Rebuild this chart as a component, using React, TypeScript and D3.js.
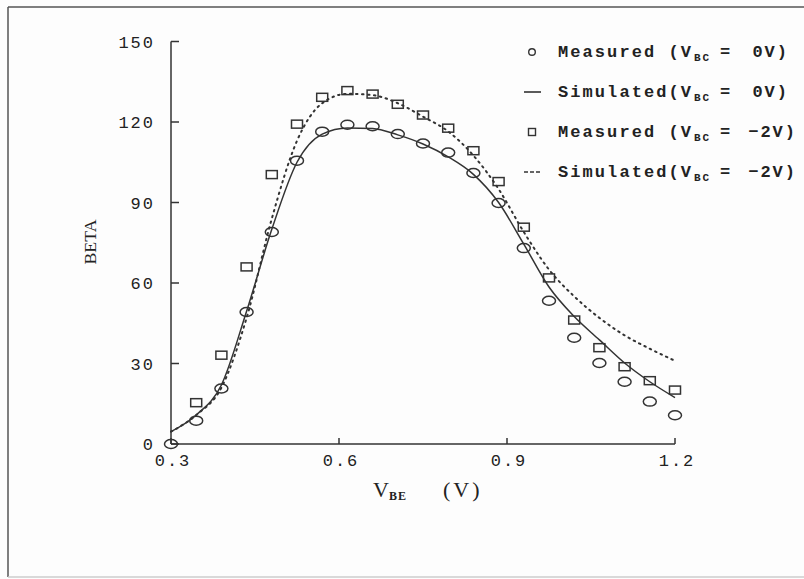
import * as d3 from "d3";

const vbe = [0.3, 0.345, 0.39, 0.435, 0.48, 0.525, 0.57, 0.615, 0.66, 0.705, 0.75,
  0.795, 0.84, 0.885, 0.93, 0.975, 1.02, 1.065, 1.11, 1.155, 1.2];
const vbeSq = [0.345, 0.39, 0.435, 0.48, 0.525, 0.57, 0.615, 0.66, 0.705, 0.75,
  0.795, 0.84, 0.885, 0.93, 0.975, 1.02, 1.065, 1.11, 1.155, 1.2];

const measured0 = [0, 8.7, 20.7, 49.2, 79, 105.6, 116.4, 119, 118.4, 115.5, 112,
  108.6, 101, 89.8, 73, 53.4, 39.6, 30.2, 23.2, 15.8, 10.7];
const simulated0 = [4.6, 10.8, 22, 49.5, 80, 105, 115.5, 117.8, 117.6, 115.2, 111.8,
  107, 100.5, 90, 74.5, 58.5, 47.5, 38.8, 30.2, 23.2, 17.3];
const measured2 = [15.4, 33.1, 66, 100.4, 119.2, 129.2, 131.7, 130.4, 126.6, 122.6,
  117.7, 109.3, 97.8, 80.8, 61.9, 46.2, 35.9, 28.8, 23.6, 20.1];
const simulated2 = [4.6, 10.8, 21, 47, 84, 113, 127, 130.5, 130, 127, 122,
  116.5, 107.5, 95, 79, 65, 55, 47, 40.5, 35.5, 31];

const xTicks = [0.3, 0.6, 0.9, 1.2];
const yTicks = [0, 30, 60, 90, 120, 150];

const legendLabels = ["Measured (V", "Simulated(V", "Measured (V", "Simulated(V"];
const legendValues = ["0V)", "0V)", "\u22122V)", "\u22122V)"];
const legendMarks = ["circle", "solid", "square", "dots"];

const ink = "#333";
const mono = "'Liberation Mono', monospace";
const serif = "'Liberation Serif', serif";

export default function App() {
  const width = 804, height = 579;
  const x = d3.scaleLinear().domain([0.3, 1.2]).range([171, 675]);
  const y = d3.scaleLinear().domain([0, 150]).range([444, 41.5]);

  const line = d3.line<number>()
    .x((d, i) => x(vbe[i]))
    .y(d => y(d))
    .curve(d3.curveMonotoneX);

  return (
    <svg width={width} height={height} style={{ position: "absolute", left: 0, top: 0, background: "#fdfdfd" }}>
      {/* scan frame */}
      <line x1={8} y1={7} x2={804} y2={7} stroke="#555" strokeWidth={1.5} />
      <line x1={8} y1={7} x2={8} y2={577} stroke="#555" strokeWidth={1.5} />
      <line x1={8} y1={577} x2={804} y2={577} stroke="#ccc" strokeWidth={1.5} />

      {/* axes */}
      <line x1={x(0.3)} y1={y(0)} x2={x(0.3)} y2={y(150)} stroke={ink} strokeWidth={1.5} />
      <line x1={x(0.3)} y1={y(0)} x2={x(1.2)} y2={y(0)} stroke={ink} strokeWidth={1.5} />
      {yTicks.map(t => (
        <g key={"y" + t}>
          <line x1={x(0.3)} x2={x(0.3) + 8} y1={y(t)} y2={y(t)} stroke={ink} strokeWidth={1.5} />
          <text x={155} y={y(t) + 6} textAnchor="end" fontFamily={mono} fontSize={17}
            letterSpacing={2} fill="#222">{t}</text>
        </g>
      ))}
      {xTicks.map(t => (
        <g key={"x" + t}>
          <line x1={x(t)} x2={x(t)} y1={y(0)} y2={y(0) - 6} stroke={ink} strokeWidth={1.5} />
          <text x={x(t) + 2} y={466} textAnchor="middle" fontFamily={mono} fontSize={17}
            letterSpacing={2} fill="#222">{t.toFixed(1)}</text>
        </g>
      ))}

      <text transform="translate(96,242) rotate(-90)" textAnchor="middle" fontFamily={serif}
        fontSize={16} fill="#222" textLength={45} lengthAdjust="spacingAndGlyphs">BETA</text>
      <text x={373} y={497} fontFamily={serif} fontSize={22} fill="#222">
        V<tspan fontSize={12} fontWeight="bold" dy={3} letterSpacing={1}>BE</tspan>
      </text>
      <text x={443} y={497} fontFamily={serif} fontSize={22} fill="#222" letterSpacing={3}>(V)</text>

      {/* simulated curves */}
      <path d={line(simulated2) || ""} fill="none" stroke={ink} strokeWidth={2}
        strokeDasharray="1.5,4.5" strokeLinecap="round" />
      <path d={line(simulated0) || ""} fill="none" stroke={ink} strokeWidth={1.5} />

      {/* measured points */}
      {measured0.map((v, i) => (
        <ellipse key={"c" + i} cx={x(vbe[i])} cy={y(v)} rx={6.5} ry={4.5}
          fill="none" stroke={ink} strokeWidth={1.5} />
      ))}
      {measured2.map((v, i) => (
        <rect key={"s" + i} x={x(vbeSq[i]) - 5.5} y={y(v) - 4} width={11} height={8}
          fill="none" stroke={ink} strokeWidth={1.5} />
      ))}

      {/* legend */}
      {legendLabels.map((label, i) => {
        const cy = 52 + i * 40;
        const mark = legendMarks[i];
        const val = legendValues[i];
        return (
          <g key={"l" + i}>
            {mark === "circle" && <circle cx={532} cy={cy} r={3.3} fill="none" stroke={ink} strokeWidth={1.4} />}
            {mark === "solid" && <line x1={524} x2={541} y1={cy} y2={cy} stroke={ink} strokeWidth={1.6} />}
            {mark === "square" && <rect x={528.5} y={cy - 3.5} width={7} height={7} fill="none" stroke={ink} strokeWidth={1.4} />}
            {mark === "dots" && <line x1={524} x2={542} y1={cy} y2={cy} stroke={ink} strokeWidth={1.6} strokeDasharray="4,2" />}
            <text x={558} y={cy + 5} fontFamily={mono} fontWeight="bold" fontSize={17}
              letterSpacing={2} fill="#222" textLength={135} lengthAdjust="spacing">{label}</text>
            <text x={694} y={cy + 9} fontFamily={mono} fontWeight="bold" fontSize={11}
              letterSpacing={2} fill="#222">BC</text>
            <text x={720} y={cy + 5} fontFamily={mono} fontWeight="bold" fontSize={17} fill="#222">=</text>
            <text x={val.length > 3 ? 797 : 789} y={cy + 5} textAnchor="end" fontFamily={mono}
              fontWeight="bold" fontSize={17} letterSpacing={2} fill="#222">{val}</text>
          </g>
        );
      })}
    </svg>
  );
}
